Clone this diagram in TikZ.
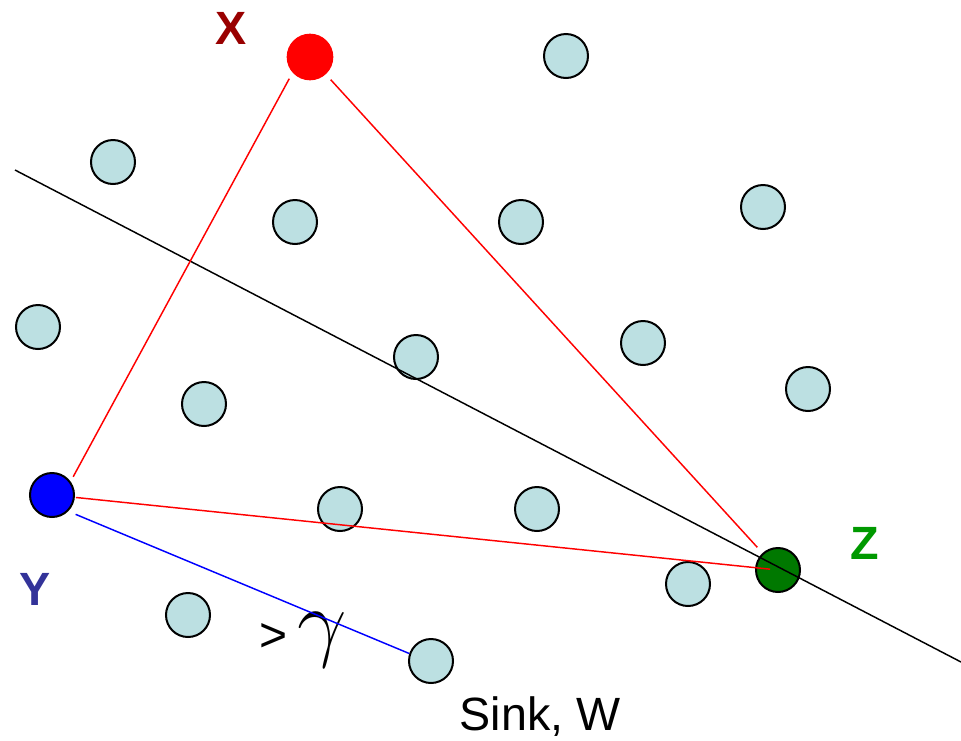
\documentclass[tikz,border=0pt]{standalone}
\usepackage{fix-cm}
\usepackage{fontspec}
\setmainfont{Liberation Sans}
\begin{document}
\begin{tikzpicture}[x=0.75pt,y=-0.75pt,
  dot/.style={circle,draw=black,line width=1.5pt,fill=dotfill,inner sep=0pt,minimum size=33pt},
  lbl/.style={font=\fontsize{35}{35}\selectfont\bfseries,inner sep=0pt},
  edge/.style={line width=1.1pt}]
\definecolor{dotfill}{HTML}{BCE0E2}
\definecolor{xred}{HTML}{990000}
\definecolor{ybl}{HTML}{333399}
\definecolor{zgr}{HTML}{009900}
\definecolor{zfill}{HTML}{007800}
\useasboundingbox (0,0) rectangle (961,740);
% sensor nodes
\node[dot] (n1) at (566,56) {};
\node[dot] (n2) at (113,162) {};
\node[dot] (n3) at (295,222) {};
\node[dot] (n4) at (521,222) {};
\node[dot] (n5) at (763,207) {};
\node[dot] (n6) at (38,327) {};
\node[dot] (n7) at (416,357) {};
\node[dot] (n8) at (643,343) {};
\node[dot] (n9) at (808,389) {};
\node[dot] (n10) at (204,404) {};
\node[dot] (n11) at (340,509) {};
\node[dot] (n12) at (537,509) {};
\node[dot] (n13) at (688,584) {};
\node[dot] (n14) at (188,615) {};
\node[dot] (W) at (431,661) {};
\node[circle,fill=red,inner sep=0pt,minimum size=35pt] (X) at (310,57) {};
\node[dot,fill=blue] (Y) at (52,495) {};
\node[dot,fill=zfill] (Z) at (778,570) {};
% labels
\node[lbl,text=xred] (lx) at (231,28) {X};
\node[lbl,text=ybl] (ly) at (35,589) {Y};
\node[lbl,text=zgr] (lz) at (865,543) {Z};
\node[inner sep=0pt,font=\fontsize{35}{35}\selectfont] (sink) at (540,717) {Sink, W};
\node[inner sep=0pt,font=\fontsize{36}{36}\selectfont] (gt) at (274,637) {>};
\node[inner sep=0pt,font=\fontsize{66}{66}\selectfont] (gam) at (322,640) {$\gamma$};
% lines
\coordinate (b1) at (15,170);
\coordinate (b2) at (961,662);
\draw[edge,black] (b1) -- (b2);
\draw[edge,red,shorten <=5pt,shorten >=4pt] (X.222) -- (Y.36);
\draw[edge,red,shorten <=23pt,shorten >=23pt] (X.center) -- (Z.center);
\draw[edge,red,shorten <=18pt,shorten >=6pt] (Y.center) -- (Z.center);
\draw[edge,blue,shorten <=6pt] (Y.-45) -- (W.161);
\end{tikzpicture}
\end{document}
